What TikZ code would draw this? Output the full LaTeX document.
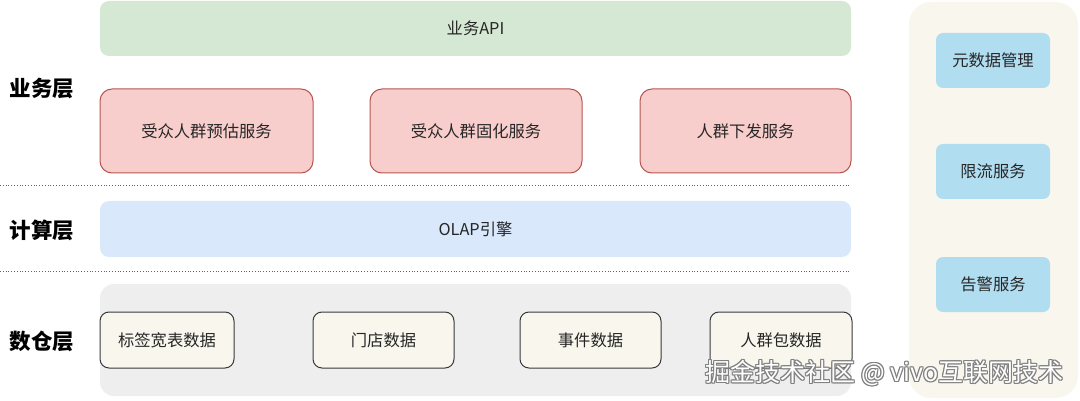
\documentclass[tikz,border=0pt]{standalone}
\usepackage{fontspec}
\newfontfamily\cjk{Noto Sans CJK SC}
\begin{document}
\begin{tikzpicture}[x=1pt,y=-1pt,
  every node/.style={font=\cjk\fontsize{16.3}{19}\selectfont, text=black!85},
  svc/.style={line width=1pt, rounded corners=12pt},
  data/.style={line width=1pt, rounded corners=9pt},
  layer/.style={font=\cjk\bfseries\fontsize{21.5}{25}\selectfont, text=black},
  sep/.style={dotted, black!60, line width=0.8pt},
  wmark/.style={font=\cjk\fontsize{25}{28}\selectfont, anchor=west}]
\useasboundingbox (0,0) rectangle (1080,401);
\definecolor{apig}{HTML}{D5E8D4}
\definecolor{svcf}{HTML}{F8CECC}
\definecolor{svcd}{HTML}{B85450}
\definecolor{olap}{HTML}{DAE8FC}
\definecolor{grayr}{HTML}{EEEEEE}
\definecolor{cream}{HTML}{F9F7ED}
\definecolor{dstroke}{HTML}{36393D}
\definecolor{blu}{HTML}{B1DDF0}
% right panel
\fill[cream, rounded corners=22pt] (909,2) rectangle (1078,398);
% api
\fill[apig, rounded corners=9pt] (100,1) rectangle (851,56);
\node (api) at (475.5,28.5) {业务API};
% services
\draw[svc, fill=svcf, draw=svcd] (100,89) rectangle (313,173);
\node (s1) at (206.5,131) {受众人群预估服务};
\draw[svc, fill=svcf, draw=svcd] (370,89) rectangle (582,173);
\node (s2) at (476,131) {受众人群固化服务};
\draw[svc, fill=svcf, draw=svcd] (640,89) rectangle (851,173);
\node (s3) at (745.5,131) {人群下发服务};
% separators
\coordinate (l1a) at (0,185); \coordinate (l1b) at (851,185);
\draw[sep] (l1a) -- (l1b);
\coordinate (l2a) at (0,271); \coordinate (l2b) at (851,271);
\draw[sep] (l2a) -- (l2b);
% olap
\fill[olap, rounded corners=9pt] (100,201) rectangle (851,257);
\node (olapn) at (475.5,229) {OLAP引擎};
% data region
\fill[grayr, rounded corners=14pt] (100,284) rectangle (851,396);
\draw[data, fill=cream, draw=dstroke] (100,312) rectangle (234,368);
\node (d1) at (167,340) {标签宽表数据};
\draw[data, fill=cream, draw=dstroke] (313,312) rectangle (454,368);
\node (d2) at (383.5,340) {门店数据};
\draw[data, fill=cream, draw=dstroke] (520,312) rectangle (661,368);
\node (d3) at (590.5,340) {事件数据};
\draw[data, fill=cream, draw=dstroke] (710,312) rectangle (852,368);
\node (d4) at (781,340) {人群包数据};
% side boxes
\fill[blu, rounded corners=7pt] (936,33) rectangle (1050,88);
\node (m1) at (993,60.5) {元数据管理};
\fill[blu, rounded corners=7pt] (936,144) rectangle (1050,199);
\node (m2) at (993,171.5) {限流服务};
\fill[blu, rounded corners=7pt] (936,257) rectangle (1050,312);
\node (m3) at (993,284.5) {告警服务};
% layer labels
\node[layer] (L1) at (42,88) {业务层};
\node[layer] (L2) at (42,230) {计算层};
\node[layer] (L3) at (42,341) {数仓层};
% watermark
\foreach \dx/\dy in {-1/0,1/0,0/-1,0/1,1/1,-1/-1,1/-1,-1/1} {
  \node[wmark, text=black!50] at (702+\dx,373+\dy) {掘金技术社区 @ vivo互联网技术};
}
\node[wmark, text=white] (wm) at (702,373) {掘金技术社区 @ vivo互联网技术};
\end{tikzpicture}
\end{document}
